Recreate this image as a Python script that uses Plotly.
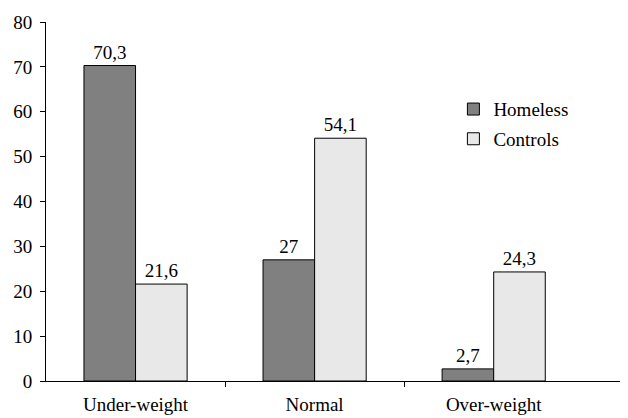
import plotly.graph_objects as go

categories = ["Under-weight", "Normal", "Over-weight"]
homeless = [70.3, 27, 2.7]
controls = [21.6, 54.1, 24.3]
y_ticks = [0, 10, 20, 30, 40, 50, 60, 70, 80]

def fmt(v):
    return str(v).replace(".", ",")

xpos = list(range(len(categories)))
font = dict(family="'Liberation Serif', 'Times New Roman', 'DejaVu Serif', serif", size=19, color="black")

fig = go.Figure()
fig.add_trace(go.Bar(
    x=xpos, y=homeless, name="Homeless",
    marker=dict(color="#808080", line=dict(color="black", width=1)),
    text=[fmt(v) for v in homeless], textposition="outside",
    textfont=font, cliponaxis=False, legendgroup="a"))
fig.add_trace(go.Bar(
    x=xpos, y=controls, name="Controls",
    marker=dict(color="#e8e8e8", line=dict(color="black", width=1)),
    text=[fmt(v) for v in controls], textposition="outside",
    textfont=font, cliponaxis=False, legendgroup="b"))

# page body has an 8px margin, so the figure is drawn 8px in from top-left
fig.update_layout(
    width=620, height=410,
    margin=dict(l=38, r=0, t=14, b=37, autoexpand=False),
    paper_bgcolor="white", plot_bgcolor="white",
    barmode="group", bargap=0.424, bargroupgap=0,
    font=font,
    showlegend=True,
    legend=dict(x=0.70, y=0.81, xanchor="left", yanchor="top",
                font=font, bgcolor="rgba(0,0,0,0)",
                traceorder="grouped", tracegroupgap=2,
                itemwidth=30),
    xaxis=dict(range=[-0.5, 2.75], tickvals=xpos, ticktext=categories,
               showline=True, linecolor="black", linewidth=1,
               ticks="", showgrid=False, zeroline=False,
               tickfont=font, automargin=False, ticklabelstandoff=6,
               minor=dict(tickvals=[0.5, 1.5], ticks="outside", ticklen=5,
                          tickcolor="black", showgrid=False)),
    yaxis=dict(range=[0, 80], tickvals=y_ticks,
               showline=True, linecolor="black", linewidth=1,
               ticks="outside", ticklen=5, tickcolor="black",
               showgrid=False, zeroline=False, tickfont=font,
               automargin=False, ticklabelstandoff=4),
)

fig.write_html("out.html")
